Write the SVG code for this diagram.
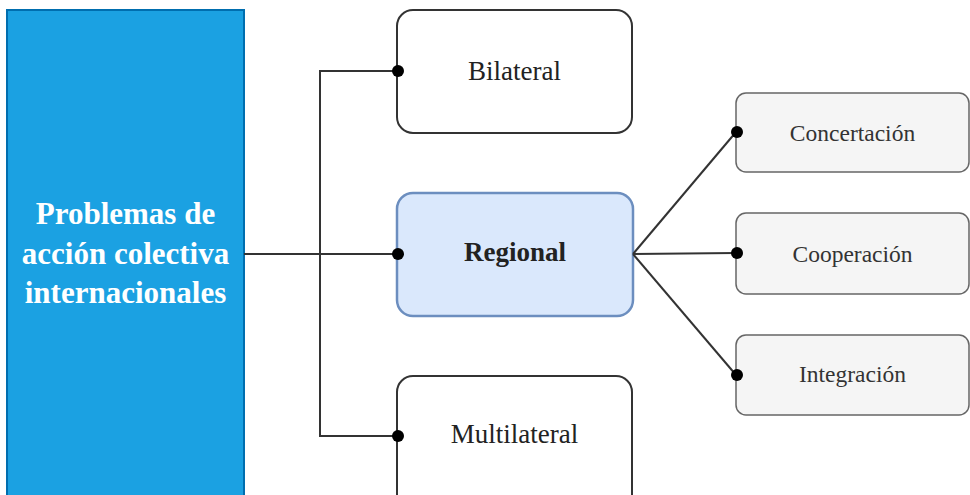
<svg xmlns="http://www.w3.org/2000/svg" width="970" height="495" viewBox="0 0 970 495">
<style>
.main{fill:#1ba1e2;stroke:#006eaf;stroke-width:2}
.mid{fill:#ffffff;stroke:#333333;stroke-width:2}
.reg{fill:#dae8fc;stroke:#6c8ebf;stroke-width:2.5}
.sub{fill:#f5f5f5;stroke:#666666;stroke-width:1.5}
text{font-family:'Liberation Serif','Times New Roman','DejaVu Serif',serif;text-anchor:middle}
.tm{font-size:31px;font-weight:bold;fill:#ffffff}
.tb{font-size:27px;fill:#222222}
.ts{font-size:23.5px;fill:#333333}
.c{fill:none;stroke:#333333;stroke-width:2}
.dot{fill:#000000}
</style>
<rect width="970" height="495" fill="#ffffff"/>
<g id="problemas">
<rect class="main" x="7" y="10" width="237" height="500"/>
<text class="tm" x="125.5" y="224">Problemas de</text>
<text class="tm" x="125.5" y="264">acción colectiva</text>
<text class="tm" x="125.5" y="303">internacionales</text>
</g>
<g id="bilateral">
<rect class="mid" x="397" y="10" width="235" height="123" rx="16"/>
<text class="tb" x="514.5" y="80">Bilateral</text>
</g>
<g id="regional">
<rect class="reg" x="397" y="193" width="236" height="123" rx="16"/>
<text class="tb" x="515" y="261" font-weight="bold" fill="#111111">Regional</text>
</g>
<g id="multilateral">
<rect class="mid" x="397" y="376" width="235" height="140" rx="16"/>
<text class="tb" x="514.5" y="443">Multilateral</text>
</g>
<g id="concertacion">
<rect class="sub" x="736" y="93" width="233" height="79" rx="10"/>
<text class="ts" x="852.5" y="141">Concertación</text>
</g>
<g id="cooperacion">
<rect class="sub" x="736" y="213" width="233" height="81" rx="10"/>
<text class="ts" x="852.5" y="262">Cooperación</text>
</g>
<g id="integracion">
<rect class="sub" x="736" y="335" width="233" height="80" rx="10"/>
<text class="ts" x="852.5" y="382">Integración</text>
</g>
<g id="connectors">
<path class="c" d="M244 254 H397"/>
<path class="c" d="M397 71 H320 V436 H397"/>
<path class="c" d="M633 254 L736 132"/>
<path class="c" d="M633 254 L736 253"/>
<path class="c" d="M633 254 L736 375"/>
<circle class="dot" cx="398" cy="71" r="6"/>
<circle class="dot" cx="398" cy="254" r="6"/>
<circle class="dot" cx="398" cy="436" r="6"/>
<circle class="dot" cx="737" cy="132" r="6"/>
<circle class="dot" cx="737" cy="253" r="6"/>
<circle class="dot" cx="737" cy="375" r="6"/>
</g>
</svg>
